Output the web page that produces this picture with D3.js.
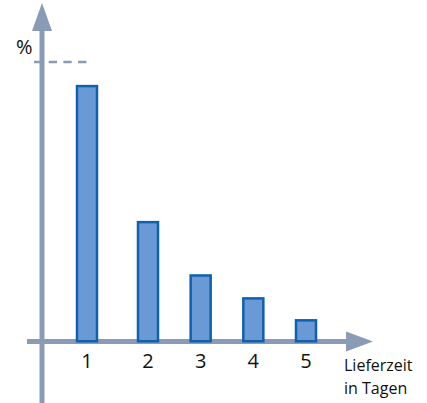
<!DOCTYPE html>
<html>
<head>
<meta charset="utf-8">
<script src="https://cdn.jsdelivr.net/npm/d3@7"></script>
<style>
  body { margin: 0; background: #fff; }
  text { font-family: "Open Sans", sans-serif; fill: #111; }
</style>
</head>
<body>
<div id="chart"></div>
<script>
// Lieferzeit in Tagen -> Anteil in %
var days = [1, 2, 3, 4, 5];
var shares = [51, 23.7, 13, 8.4, 4];
var maxLine = 55.6;
var tickLabels = ["1", "2", "3", "4", "5"];

var width = 427,
  height = 403;

var axisColor = "#8a9bb5";
var barFill = "#6a9ad6";
var barStroke = "#1060b0";

var svg = d3.select("#chart").append("svg")
  .attr("width", width)
  .attr("height", height);

// first step is wider than the rest in the original
var x = d3.scaleLinear()
  .domain([1, 2, 5])
  .range([87, 148, 306]);

var y = d3.scaleLinear()
  .domain([0, 60])
  .range([339, 40]);

var barW = 20;

// axes
svg.append("line")
  .attr("x1", 42).attr("x2", 42)
  .attr("y1", 28).attr("y2", 403)
  .attr("stroke", axisColor)
  .attr("stroke-width", 5);

svg.append("path")
  .attr("d", "M42,3 L52,31 L32,31 Z")
  .attr("fill", axisColor);

svg.append("line")
  .attr("x1", 27).attr("x2", 350)
  .attr("y1", 341.5).attr("y2", 341.5)
  .attr("stroke", axisColor)
  .attr("stroke-width", 5);

svg.append("path")
  .attr("d", "M373,341.5 L346,331.5 L346,351.5 Z")
  .attr("fill", axisColor);

// dashed max marker
svg.append("line")
  .attr("x1", 34).attr("x2", 88)
  .attr("y1", y(maxLine)).attr("y2", y(maxLine))
  .attr("stroke", axisColor)
  .attr("stroke-width", 2.5)
  .attr("stroke-dasharray", "8.3,6.4");

// bars
svg.selectAll(".bar")
  .data(shares)
  .enter().append("rect")
  .attr("class", "bar")
  .attr("x", function(d, i) { return x(days[i]) - barW / 2; })
  .attr("y", function(d) { return y(d) + 1.25; })
  .attr("width", barW)
  .attr("height", function(d) { return y(0) - y(d) + 1; })
  .attr("fill", barFill)
  .attr("stroke", barStroke)
  .attr("stroke-width", 2.5);

// tick labels
svg.selectAll(".tick-label")
  .data(tickLabels)
  .enter().append("text")
  .attr("class", "tick-label")
  .attr("x", function(d, i) { return x(days[i]); })
  .attr("y", 368)
  .attr("text-anchor", "middle")
  .style("font-size", "20px")
  .text(function(d) { return d; });

svg.append("text")
  .attr("x", 16)
  .attr("y", 54)
  .style("font-size", "20px")
  .text("%");

svg.append("text")
  .attr("x", 344)
  .attr("y", 371)
  .style("font-size", "16px")
  .text("Lieferzeit");

svg.append("text")
  .attr("x", 344)
  .attr("y", 394)
  .style("font-size", "16px")
  .text("in Tagen");
</script>
</body>
</html>
